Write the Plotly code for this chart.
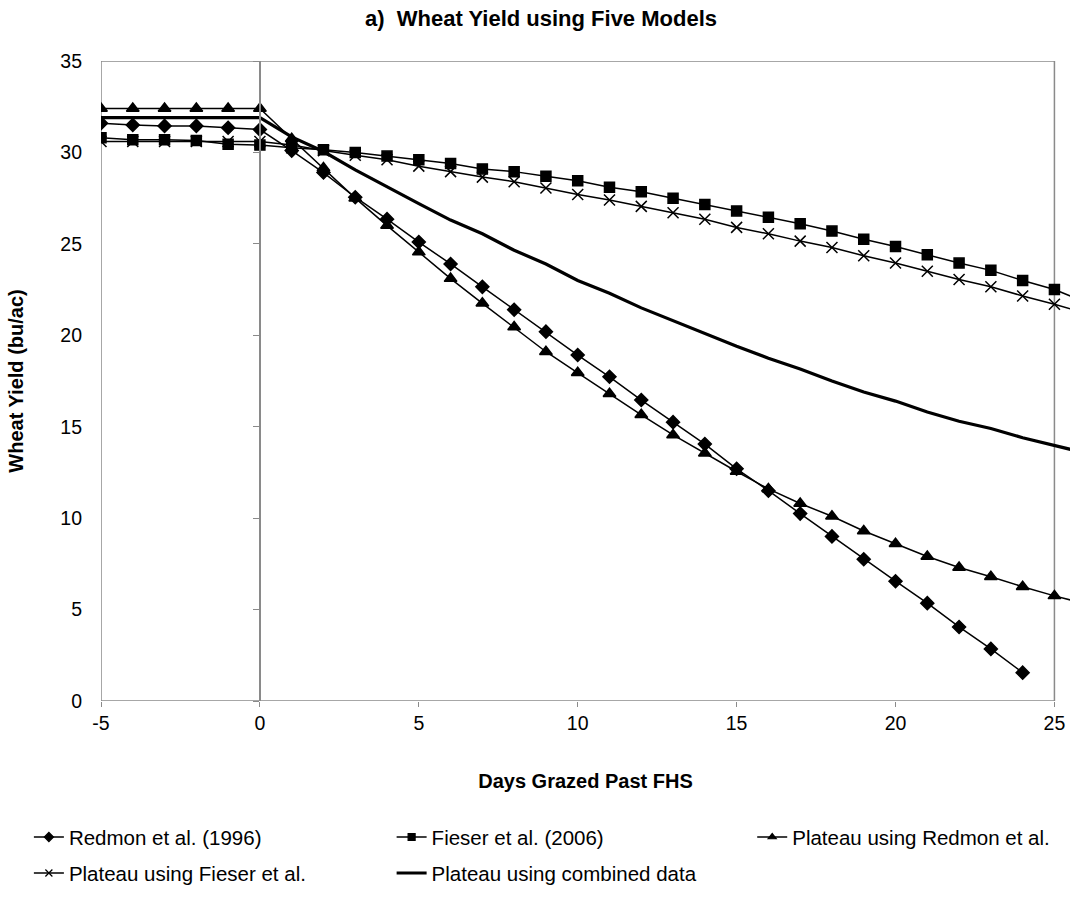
import plotly.graph_objects as go

# ---------------- data ----------------
days = list(range(-5, 27))            # -5 ... 26
days_redmon = list(range(-5, 25))     # -5 ... 24

redmon = [31.6, 31.5, 31.45, 31.45, 31.35, 31.25,
          30.1, 28.9, 27.55, 26.35, 25.1, 23.9, 22.65, 21.4, 20.2, 18.92,
          17.73, 16.46, 15.25, 14.05, 12.7, 11.5, 10.25, 9.0, 7.75, 6.55,
          5.35, 4.05, 2.85, 1.55]

fieser = [30.8, 30.7, 30.7, 30.65, 30.45, 30.4,
          30.25, 30.15, 30.0, 29.8, 29.6, 29.4, 29.1, 28.95, 28.7, 28.45,
          28.1, 27.85, 27.5, 27.15, 26.8, 26.45, 26.1, 25.7, 25.25, 24.85,
          24.4, 23.95, 23.55, 23.0, 22.5, 21.8]

plateau_redmon = [32.4, 32.4, 32.4, 32.4, 32.4, 32.4,
                  30.75, 29.15, 27.5, 26.0, 24.55, 23.1, 21.75, 20.45, 19.1, 17.95,
                  16.8, 15.65, 14.55, 13.55, 12.55, 11.6, 10.8, 10.1, 9.3, 8.6,
                  7.9, 7.3, 6.8, 6.25, 5.75, 5.3]

plateau_fieser = [30.6, 30.6, 30.6, 30.6, 30.6, 30.6,
                  30.4, 30.1, 29.85, 29.6, 29.25, 28.95, 28.65, 28.4, 28.05, 27.7,
                  27.4, 27.05, 26.7, 26.35, 25.9, 25.55, 25.15, 24.8, 24.35, 23.95,
                  23.5, 23.05, 22.65, 22.15, 21.7, 21.2]

plateau_combined = [31.9, 31.9, 31.9, 31.9, 31.9, 31.9,
                    30.85, 30.05, 29.05, 28.1, 27.2, 26.3, 25.55, 24.65, 23.9, 23.0,
                    22.3, 21.5, 20.8, 20.1, 19.4, 18.75, 18.15, 17.5, 16.9, 16.4,
                    15.8, 15.3, 14.9, 14.4, 14.0, 13.55]

series_names = ["Redmon et al. (1996)", "Fieser et al. (2006)",
                "Plateau using Redmon et al.", "Plateau using Fieser et al.",
                "Plateau using combined data"]

x_ticks = [-5, 0, 5, 10, 15, 20, 25]
y_ticks = [0, 5, 10, 15, 20, 25, 30, 35]

X_MIN, X_MAX_AXIS, X_MAX_VIEW = -5, 25, 25.49
Y_MIN, Y_MAX = 0, 35

# ---------------- styling ----------------
FONT = "Liberation Sans, Arial, sans-serif"
GRAY = "#8a8a8a"
W, H = 1070, 899
ML, MR, MT, MB = 101, 0, 61, 198

fig = go.Figure()

styles = [
    dict(x=days_redmon, y=redmon, symbol="diamond", size=10, lw=1.5, name=series_names[0]),
    dict(x=days, y=fieser, symbol="square", size=10, lw=1.5, name=series_names[1]),
    dict(x=days, y=plateau_redmon, symbol="triangle-up", size=11, lw=1.5, name=series_names[2]),
    dict(x=days, y=plateau_fieser, symbol="x-thin-open", size=11, lw=1.5, name=series_names[3]),
    dict(x=days, y=plateau_combined, symbol=None, size=0, lw=3.2, name=series_names[4]),
]

for s in styles:
    if s["symbol"] is None:
        fig.add_trace(go.Scatter(x=s["x"], y=s["y"], mode="lines",
                                 line=dict(color="black", width=s["lw"]),
                                 showlegend=False, hoverinfo="x+y"))
    else:
        fig.add_trace(go.Scatter(x=s["x"], y=s["y"], mode="lines+markers",
                                 line=dict(color="black", width=s["lw"]),
                                 marker=dict(symbol=s["symbol"], size=s["size"], color="black",
                                             line=dict(color="black", width=1.5)),
                                 showlegend=False, hoverinfo="x+y"))

# legend-only entries (smaller markers, like the reference legend)
legend_pos = [(0.027, 0.091), (0.366, 0.091), (0.703, 0.091),
              (0.027, 0.051), (0.366, 0.051)]
for i, s in enumerate(styles):
    lname = "legend" if i == 0 else f"legend{i+1}"
    if s["symbol"] is None:
        fig.add_trace(go.Scatter(x=[None], y=[None], mode="lines", name=s["name"],
                                 line=dict(color="black", width=s["lw"]),
                                 legend=lname, showlegend=True))
    else:
        fig.add_trace(go.Scatter(x=[None], y=[None], mode="lines+markers", name=s["name"],
                                 line=dict(color="black", width=1.5),
                                 marker=dict(symbol=s["symbol"], size=7, color="black",
                                             line=dict(color="black", width=1.2)),
                                 legend=lname, showlegend=True))

legend_common = dict(orientation="h", xref="container", yref="container",
                     xanchor="left", yanchor="top", bgcolor="rgba(0,0,0,0)",
                     font=dict(family=FONT, size=20.5, color="black"),
                     borderwidth=0)
layout_legends = {}
for i, (lx, ly) in enumerate(legend_pos):
    key = "legend" if i == 0 else f"legend{i+1}"
    layout_legends[key] = dict(legend_common, x=lx, y=ly)

# frame of the plot area (x from -5 to 25, y from 0 to 35)
fig.add_shape(type="rect", xref="x", yref="y", x0=X_MIN, x1=X_MAX_AXIS, y0=Y_MIN, y1=Y_MAX,
              line=dict(color=GRAY, width=1.5), layer="below")

y0_pos = (0 - X_MIN) / (X_MAX_VIEW - X_MIN)

fig.update_layout(
    width=W, height=H,
    margin=dict(l=ML, r=MR, t=MT, b=MB),
    paper_bgcolor="white", plot_bgcolor="white",
    font=dict(family=FONT, size=19, color="black"),
    title=dict(text="<b>a)  Wheat Yield using Five Models</b>",
               x=0.5056, xref="container", xanchor="center",
               y=1 - 18 / H, yref="container", yanchor="middle",
               font=dict(family=FONT, size=22, color="black")),
    xaxis=dict(range=[X_MIN, X_MAX_VIEW], tickvals=x_ticks, ticktext=[str(v) for v in x_ticks],
               showgrid=False, zeroline=False, showline=False,
               ticks="outside", ticklen=5, tickcolor=GRAY, tickwidth=1.2,
               ticklabelstandoff=0,
               tickfont=dict(family=FONT, size=19.5, color="black"),
               title=dict(text="<b>Days Grazed Past FHS</b>", standoff=40,
                          font=dict(family=FONT, size=20, color="black"))),
    yaxis=dict(range=[Y_MIN, Y_MAX], tickvals=y_ticks, ticktext=[str(v) for v in y_ticks],
               showgrid=False, zeroline=False, showline=False, ticks="",
               ticklabelstandoff=18,
               tickfont=dict(family=FONT, size=19.5, color="black"),
               title=dict(text="<b>Wheat Yield (bu/ac)</b>", standoff=31,
                          font=dict(family=FONT, size=20, color="black"))),
    yaxis2=dict(range=[Y_MIN, Y_MAX], tickvals=y_ticks, overlaying="y", anchor="free",
                position=y0_pos, side="left", showgrid=False, zeroline=False,
                showline=True, linecolor=GRAY, linewidth=1.5,
                ticks="outside", ticklen=6, tickcolor=GRAY, tickwidth=1.2,
                showticklabels=False),
    showlegend=True,
    **layout_legends,
)

# dummy trace to activate yaxis2
fig.add_trace(go.Scatter(x=[None], y=[None], yaxis="y2", showlegend=False, hoverinfo="skip"))

fig.write_html("out.html")
